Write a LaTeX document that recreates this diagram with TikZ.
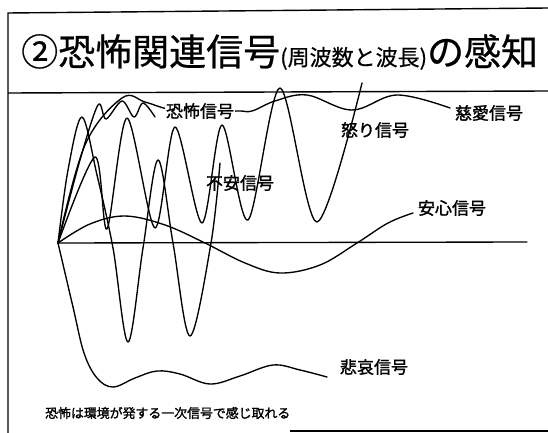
\documentclass[tikz,border=0pt]{standalone}
\usepackage{fontspec}
\newfontfamily\cjk[FakeBold=0.6]{Noto Sans CJK JP}
\newfontfamily\cjkb[FakeBold=1.5]{Noto Sans CJK JP}
\tikzset{
  frameline/.style={line width=1.4pt, black},
  wave/.style={line width=1.35pt, black, line join=round, line cap=round},
  lbl/.style={inner sep=0pt, font=\fontsize{17}{17}\cjkb},
}
\begin{document}
\begin{tikzpicture}[x=1pt,y=-1pt]
\useasboundingbox (0,0) rectangle (548,433);
% frame
\coordinate (tl) at (8,13);
\coordinate (tr) at (548,8);
\coordinate (bl) at (8,433);
\coordinate (sl) at (8,93);
\coordinate (sr) at (548,91);
\coordinate (bbl) at (290,431);
\coordinate (bbr) at (548,431);
\draw[frameline] (tr) -- (tl) -- (bl);
\draw[frameline] (sl) -- (sr);
\draw[frameline] (bbl) -- (bbr);
% title
\node[anchor=west, inner sep=0pt] (title) at (21,52)
  {\fontsize{37}{37}\cjk ②恐怖関連信号\fontsize{22}{22}\selectfont(周波数と波長)\fontsize{37}{37}\selectfont の感知};
% axis
\coordinate (O) at (58,243);
\coordinate (axend) at (527,242);
\draw[wave] (O) -- (axend);
% 安心
\draw[wave] plot[smooth, tension=0.6] coordinates {(58,243) (90,224) (125,216) (165,225) (205,243) (245,263) (280,273) (320,265) (357,243) (388,223) (413,213)};
% 悲哀
\draw[wave] plot[smooth, tension=0.6] coordinates {(58,243) (73,307) (84,353) (97,378) (113,387) (135,378) (157,371) (180,374) (210,384) (240,376) (273,365) (300,370) (327,377)};
% big wave
\draw[wave] plot[smooth, tension=0.55] coordinates {(58,243) (68,170) (82,117) (97,175) (113,248) (128,342) (143,248) (158,160) (173,243) (190,336) (211,243) (220,163)};
% medium wave
\draw[wave] plot[smooth, tension=0.5] coordinates {(58,243) (95,157) (107,229) (127,118) (155,228) (175,127) (202,223) (222,125) (248,220) (280,88) (317,222) (362,83)};
% 恐怖
\draw[wave] plot[smooth, tension=0.55] coordinates {(58,243) (80,160) (98,105) (106,119) (122,101) (134,117) (143,103) (155,117)};
% 慈愛
\draw[wave] plot[smooth, tension=0.6] coordinates {(58,243) (85,145) (122,98) (145,102) (168,109) (200,112) (238,111) (252,111) (275,101) (307,95) (352,110) (397,95) (450,108)};
% labels
\node[lbl, fill=white, inner sep=1pt] (kyofu) at (200,111) {恐怖信号};
\node[lbl] (jiai) at (489,113) {慈愛信号};
\node[lbl] (ikari) at (375,130) {怒り信号};
\node[lbl] (fuan) at (240,183) {不安信号};
\node[lbl] (anshin) at (452,208) {安心信号};
\node[lbl] (hiai) at (374,367) {悲哀信号};
\node[inner sep=0pt, anchor=west, font=\fontsize{12.9}{13}\cjkb] (note) at (45,413) {恐怖は環境が発する一次信号で感じ取れる};
\end{tikzpicture}
\end{document}
